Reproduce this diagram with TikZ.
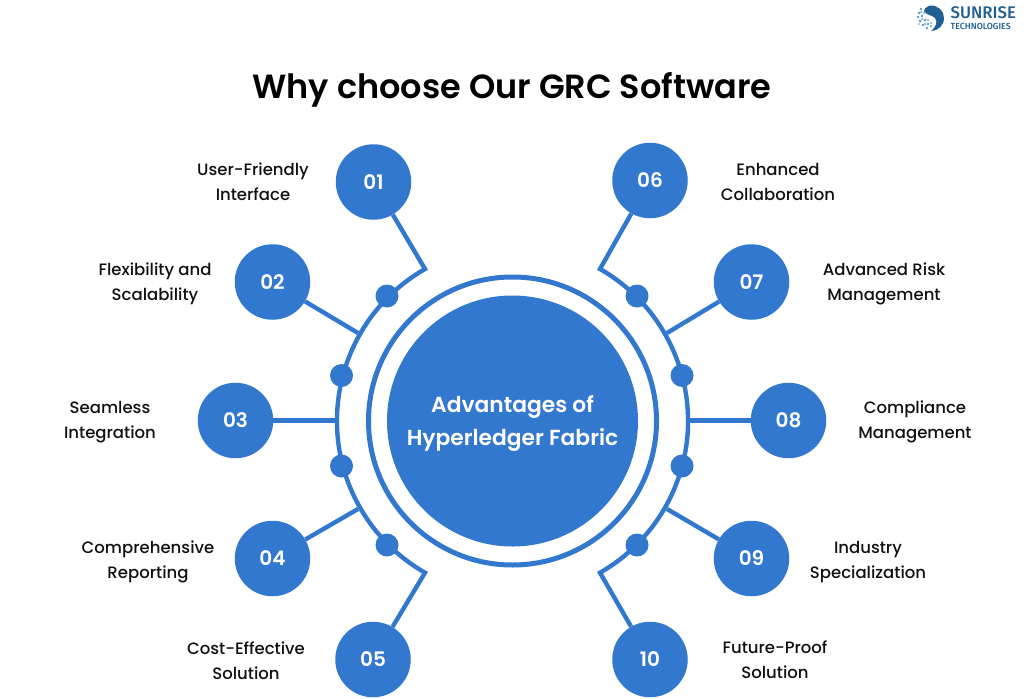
\documentclass[tikz,border=0pt]{standalone}
\usepackage{fontspec}
\setmainfont{Poppins}[BoldFont={Poppins SemiBold}]
\newfontfamily\itemfont{Poppins Medium}
\newfontfamily\logofont{Fira Sans Medium}
\definecolor{brand}{HTML}{3278CE}
\definecolor{logodark}{HTML}{1F5F94}
\definecolor{logolight}{HTML}{5E9CC9}
\definecolor{ink}{HTML}{111111}
\tikzset{
  numdot/.style={circle,fill=brand,draw=none,minimum size=75.5pt,inner sep=0pt,text=white,font=\fontsize{20}{20}\selectfont\bfseries},
  joint/.style={circle,fill=brand,draw=none,minimum size=23pt,inner sep=0pt},
  wire/.style={draw=brand,line width=4.4pt,line join=miter},
  itemlabel/.style={align=center,text=ink,inner sep=0pt,font=\itemfont\fontsize{16.5}{25}\selectfont},
}
\begin{document}
\begin{tikzpicture}[x=1pt,y=-1pt]
\useasboundingbox (0,0) rectangle (1024,698);
\fill[white] (0,0) rectangle (1024,698);
% hub
\node[circle,fill=brand,minimum size=251pt,inner sep=0pt] (hub) at (512.5,421) {};
\node[circle,draw=brand,line width=5pt,minimum size=288pt,inner sep=0pt] (ring) at (512.5,421) {};
\node[text=white,align=center,inner sep=0pt,font=\fontsize{21.8}{33}\selectfont\bfseries] (hubtext) at (hub.center) [yshift=-2pt] {Advantages of\\Hyperledger Fabric};
% junction ends
\coordinate (j01) at (425,269);
\coordinate (j05) at (425,573);
\coordinate (j06) at (600,269);
\coordinate (j10) at (600,573);
\coordinate (j02) at (358,333);
\coordinate (j03) at (338,420.5);
\coordinate (j04) at (358,509);
\coordinate (j07) at (667,333);
\coordinate (j08) at (688,420.5);
\coordinate (j09) at (667,509);
% numbered circles
\node[numdot] (n01) at (373.5,182) {01};
\node[numdot] (n02) at (272.5,282) {02};
\node[numdot] (n03) at (235.5,420.5) {03};
\node[numdot] (n04) at (272.5,558.5) {04};
\node[numdot] (n05) at (373,659.5) {05};
\node[numdot] (n06) at (650,180.5) {06};
\node[numdot] (n07) at (751.5,282) {07};
\node[numdot] (n08) at (788.5,420.5) {08};
\node[numdot] (n09) at (751.5,558.5) {09};
\node[numdot] (n10) at (650,659.5) {10};
% outer arcs with their corner spokes
\draw[wire] (n01) -- (j01) arc[start angle=-119.8,end angle=-240.2,radius=175] -- (n05);
\draw[wire] (n06) -- (j06) arc[start angle=-60.2,end angle=60.2,radius=175] -- (n10);
\foreach \a in {02,03,04,07,08,09}{\draw[wire] (n\a) -- (j\a);}
% joints on arcs
\node[joint] (d1) at (387,296) {};
\node[joint] (d2) at (341.5,375.5) {};
\node[joint] (d3) at (341.5,466) {};
\node[joint] (d4) at (387,545) {};
\node[joint] (d5) at (637,296) {};
\node[joint] (d6) at (682,375.5) {};
\node[joint] (d7) at (682,466) {};
\node[joint] (d8) at (637,545) {};
% title
\node[text=black,inner sep=0pt,font=\fontsize{33.5}{36}\selectfont\bfseries] (title) at (512,90) {Why choose Our GRC Software};
% labels
\node[itemlabel] (t01) at (253,182) {User-Friendly\\Interface};
\node[itemlabel] (t02) at (155,284) {Flexibility and\\Scalability};
\node[itemlabel] (t03) at (110,422) {Seamless\\Integration};
\node[itemlabel] (t04) at (148,562) {Comprehensive\\Reporting};
\node[itemlabel] (t05) at (246,661) {Cost-Effective\\Solution};
\node[itemlabel] (t06) at (778,182) {Enhanced\\Collaboration};
\node[itemlabel] (t07) at (884,284) {Advanced Risk\\Management};
\node[itemlabel] (t08) at (915,422) {Compliance\\Management};
\node[itemlabel] (t09) at (868,562) {Industry\\Specialization};
\node[itemlabel] (t10) at (775,660) {Future-Proof\\Solution};
% logo
\fill[logodark] (930,5.5) .. controls (938,5) and (944,11) .. (944,18) .. controls (944,25.5) and (938,31) .. (931,31) .. controls (936,27) and (938,22) .. (935,18) .. controls (932,15) and (926,15) .. (924,11) .. controls (924,9) and (926,7) .. (930,5.5) -- cycle;
\foreach \px/\py/\pr in {921/9/1.4,919/13/1.5,918/17/1.4,920/21/1.5,923/25/1.4,927/28/1.3,922/16/1.3,925/20/1.5,928/24/1.4,924/13/1,919/24/0.9,931/26/1.1,921/12/1,922/19/1,925/24/1,928/20/1,931/23/1}{
  \fill[logolight] (\px,\py) circle[radius=\pr];
}
\node[anchor=west,inner sep=0pt,text=logodark,font=\logofont\fontsize{16.8}{16.8}\selectfont] (logo1) at (950.5,13) {SUNRISE};
\node[anchor=west,inner sep=0pt,text=logodark,font=\logofont\fontsize{8.8}{8.8}\selectfont] (logo2) at (950.5,26.5) {TECHNOLOGIES};
\end{tikzpicture}
\end{document}
